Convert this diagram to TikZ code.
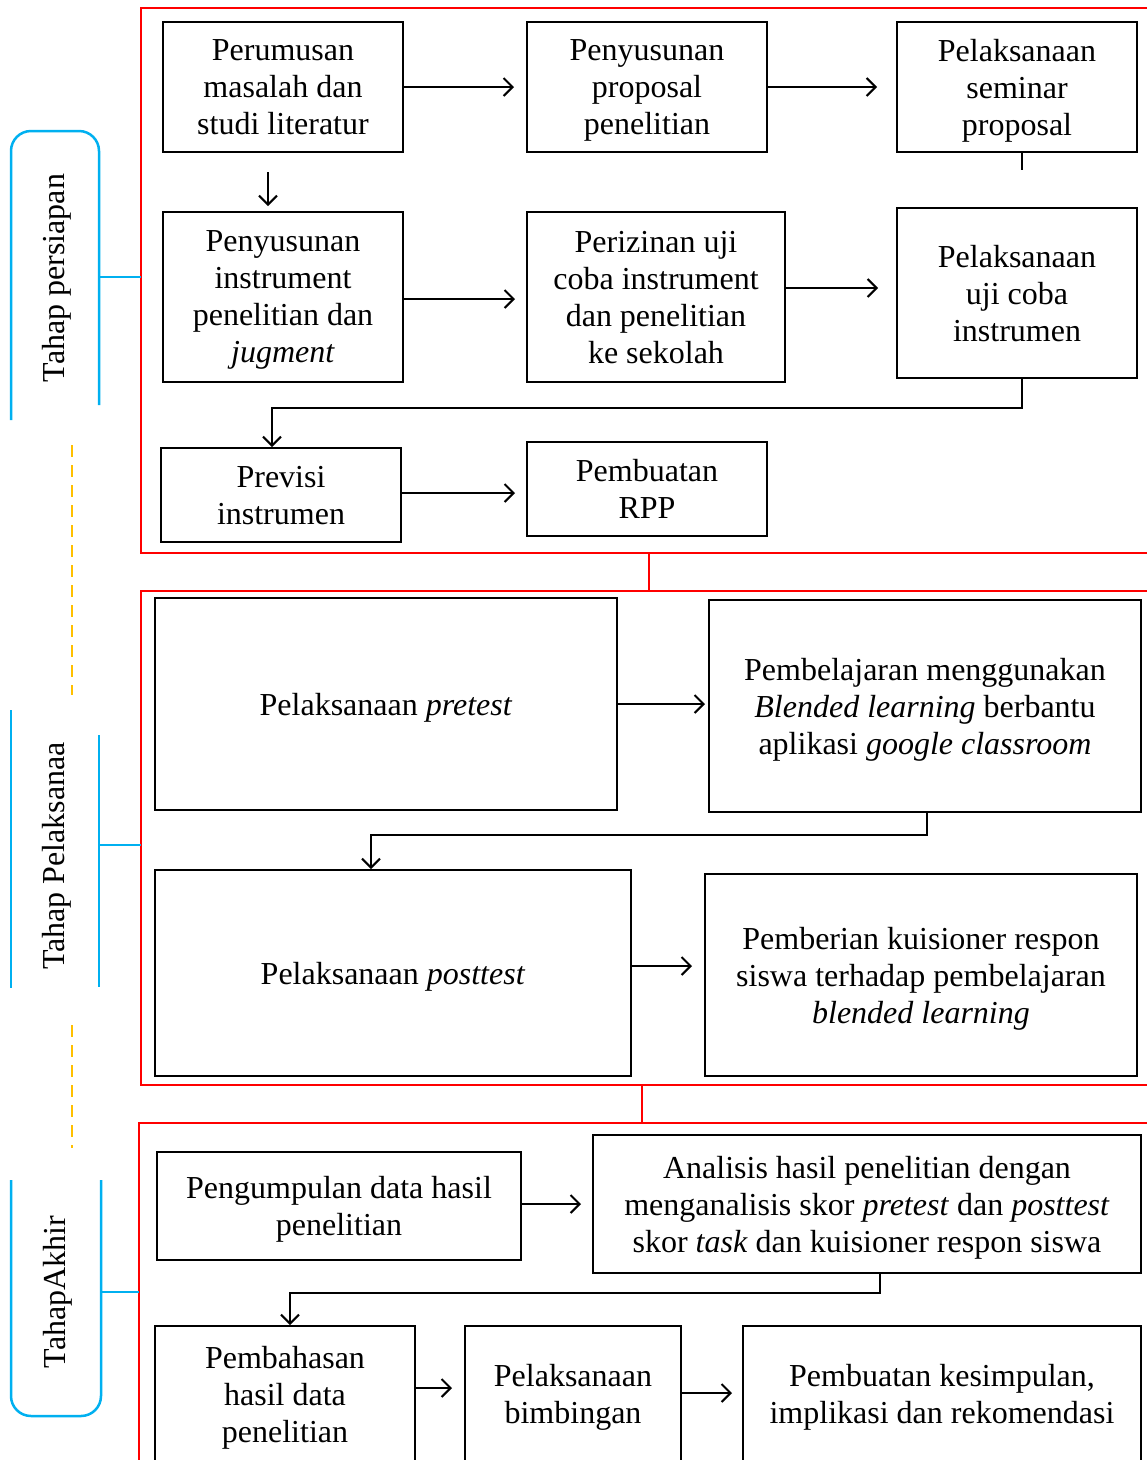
\documentclass[tikz,border=0pt]{standalone}
\usepackage{fontspec}
\setmainfont{Liberation Serif}
\usetikzlibrary{arrows.meta}
\definecolor{bracketblue}{RGB}{0,176,240}
\definecolor{dashyellow}{RGB}{255,192,0}
\tikzset{
  box/.style={draw=black, line width=2pt, inner sep=0pt, align=center, text depth=0pt, font=\fontsize{32}{37}\selectfont},
  arr/.style={line width=2pt, -{Straight Barb[length=9pt,width=18pt,line width=2pt]}},
  plain/.style={line width=2pt},
  frame/.style={draw=red, line width=2.2pt},
  brk/.style={draw=bracketblue, line width=2.5pt},
  ydash/.style={draw=dashyellow, line width=2.5pt, dash pattern=on 12pt off 8pt},
  lbl/.style={rotate=90, font=\fontsize{32}{37}\selectfont, inner sep=0pt}
}
\begin{document}
\begin{tikzpicture}[x=1pt,y=-1pt]
\useasboundingbox (0,0) rectangle (1147,1460);
\clip (0,0) rectangle (1147,1460);
\fill[white] (0,0) rectangle (1147,1460);

% red frames
\draw[frame] (141,8) rectangle (1170,553);
\draw[frame] (141,591) rectangle (1170,1085);
\draw[frame] (139,1123) rectangle (1170,1490);
\coordinate (r1) at (649,553); \coordinate (r2) at (649,591);
\draw[frame] (r1) -- (r2);
\coordinate (r3) at (642,1085); \coordinate (r4) at (642,1123);
\draw[frame] (r3) -- (r4);

% blue brackets
\draw[brk, rounded corners=20pt] (11,420) -- (11,131) -- (99,131) -- (99,405);
\coordinate (t1a) at (99,277); \coordinate (t1b) at (141,277);
\draw[brk] (t1a) -- (t1b);
\draw[brk] (11,710) -- (11,988);
\draw[brk] (99,735) -- (99,987);
\coordinate (t2a) at (99,845); \coordinate (t2b) at (141,845);
\draw[brk] (t2a) -- (t2b);
\draw[brk, rounded corners=20pt] (11,1180) -- (11,1416) -- (101,1416) -- (101,1180);
\coordinate (t3a) at (101,1292); \coordinate (t3b) at (139,1292);
\draw[brk] (t3a) -- (t3b);

% yellow dashed
\draw[ydash] (72,445) -- (72,695);
\draw[ydash] (72,1025) -- (72,1148);

% bracket labels
\node[lbl] (L1) at (57,278) {Tahap persiapan};
\node[lbl] (L2) at (57,856) {Tahap Pelaksanaa};
\node[lbl] (L3) at (58,1292) {TahapAkhir};

% section 1
\node[box, minimum width=240pt, minimum height=130pt] (A1) at (283,87) {Perumusan\\masalah dan\\studi literatur};
\node[box, minimum width=240pt, minimum height=130pt] (A2) at (647,87) {Penyusunan\\proposal\\penelitian};
\node[box, minimum width=240pt, minimum height=130pt] (A3) at (1017,87) {Pelaksanaan\\seminar\\proposal};
\node[box, minimum width=240pt, minimum height=170pt] (B1) at (283,297) {Penyusunan\\instrument\\penelitian dan\\\textit{jugment}};
\node[box, minimum width=258pt, minimum height=170pt] (B2) at (656,297) {Perizinan uji\\coba instrument\\dan penelitian\\ke sekolah};
\node[box, minimum width=240pt, minimum height=170pt] (B3) at (1017,293) {Pelaksanaan\\uji coba\\instrumen};
\node[box, minimum width=240pt, minimum height=94pt] (C1) at (281,495) {Previsi\\instrumen};
\node[box, minimum width=240pt, minimum height=94pt] (C2) at (647,489) {Pembuatan\\RPP};

\draw[arr] (A1.east) -- ([xshift=-12pt]A2.west);
\draw[arr] (A2.east) -- ([xshift=-19pt]A3.west);
\coordinate (s1) at (268,172); \coordinate (s2) at (268,206);
\draw[arr] (s1) -- (s2);
\coordinate (s3) at (1022,170);
\draw[plain] ([xshift=5pt]A3.south) -- (s3);
\draw[arr] (B1.east |- 0,299) -- (515,299);
\draw[arr] (B2.east |- 0,288) -- (878,288);
\coordinate (k1) at (1022,408); \coordinate (k2) at (272,408);
\draw[arr] ([xshift=5pt]B3.south) -- (k1) -- (k2) -- (C1.north -| k2);
\draw[arr] (C1.east |- 0,493) -- (515,493);

% section 2
\node[box, minimum width=462pt, minimum height=212pt] (D1) at (386,704) {Pelaksanaan \textit{pretest}};
\node[box, minimum width=432pt, minimum height=212pt] (D2) at (925,706) {Pembelajaran menggunakan\\\textit{Blended learning} berbantu\\aplikasi \textit{google classroom}};
\node[box, minimum width=476pt, minimum height=206pt] (E1) at (393,973) {Pelaksanaan \textit{posttest}};
\node[box, minimum width=432pt, minimum height=202pt] (E2) at (921,975) {Pemberian kuisioner respon\\siswa terhadap pembelajaran\\\textit{blended learning}};
\draw[arr] (D1.east |- 0,704) -- (705,704);
\coordinate (k3) at (927,835); \coordinate (k4) at (371,835);
\draw[arr] (D2.south -| k3) -- (k3) -- (k4) -- (E1.north -| k4);
\draw[arr] (E1.east |- 0,966) -- (692,966);

% section 3
\node[box, minimum width=364pt, minimum height=108pt] (F1) at (339,1206) {Pengumpulan data hasil\\penelitian};
\node[box, minimum width=548pt, minimum height=138pt] (F2) at (867,1204) {Analisis hasil penelitian dengan\\menganalisis skor \textit{pretest} dan \textit{posttest}\\skor \textit{task} dan kuisioner respon siswa};
\node[box, minimum width=260pt, minimum height=136pt] (G1) at (285,1394) {Pembahasan\\hasil data\\penelitian};
\node[box, minimum width=216pt, minimum height=136pt] (G2) at (573,1394) {Pelaksanaan\\bimbingan};
\node[box, minimum width=398pt, minimum height=136pt] (G3) at (942,1394) {Pembuatan kesimpulan,\\implikasi dan rekomendasi};
\draw[arr] (F1.east |- 0,1204) -- (581,1204);
\coordinate (k5) at (880,1293); \coordinate (k6) at (290,1293);
\draw[arr] (F2.south -| k5) -- (k5) -- (k6) -- (G1.north -| k6);
\draw[arr] (G1.east |- 0,1388) -- (452,1388);
\draw[arr] (G2.east |- 0,1393) -- (732,1393);
\end{tikzpicture}
\end{document}
